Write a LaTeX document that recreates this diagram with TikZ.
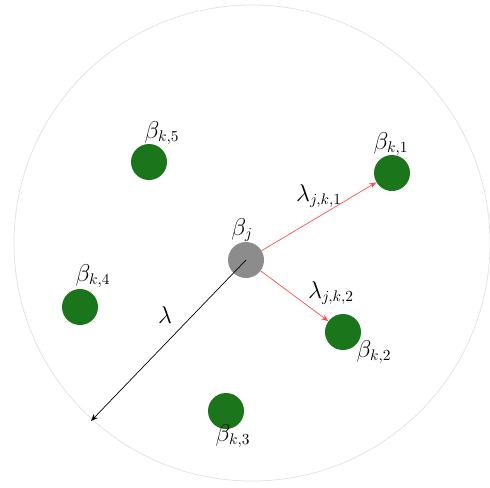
\documentclass[tikz,border=0pt]{standalone}
\usepackage{tikz}
\usetikzlibrary{arrows.meta}

\definecolor{ballgreen}{RGB}{27,117,27}
\definecolor{ballgray}{RGB}{140,140,140}
\definecolor{linkred}{RGB}{250,80,80}
\definecolor{rimgray}{RGB}{225,225,225}

\tikzset{
  ball/.style={circle, inner sep=0pt, minimum size=0.9cm},
  kball/.style={ball, fill=ballgreen},
  jball/.style={ball, fill=ballgray},
  tag/.style={font=\fontsize{16}{18}\selectfont},
  link/.style={draw=linkred, line width=0.5pt, -{Stealth[length=5pt,width=4pt]}},
  reach/.style={draw=black, line width=0.5pt, -{Stealth[length=5pt,width=4pt]}}
}

\begin{document}
\begin{tikzpicture}[x=0.025cm,y=-0.025cm]
  \useasboundingbox (0,0) rectangle (490,487);

%rim
  \coordinate (O) at (252,243);
  \draw[rimgray, line width=0.5pt] (O) circle (238);

%balls
  \node[jball] (bj) at (246,260) {};
  \node[kball] (bk1) at (392,173) {};
  \node[kball] (bk2) at (343,332) {};
  \node[kball] (bk3) at (226,411) {};
  \node[kball] (bk4) at (80,307) {};
  \node[kball] (bk5) at (149,162) {};

%labels
  \node[tag] (tj) at (242,230) {$\beta_j$};
  \node[tag] (tk1) at (391,144) {$\beta_{k,1}$};
  \node[tag] (tk2) at (374,352) {$\beta_{k,2}$};
  \node[tag] (tk3) at (233,436) {$\beta_{k,3}$};
  \node[tag] (tk4) at (93,276) {$\beta_{k,4}$};
  \node[tag] (tk5) at (162,133) {$\beta_{k,5}$};

%links
  \coordinate (R) at (91,421);
  \draw[link] (bj) -- (bk1);
  \draw[link] (bj) -- (bk2);
  \draw[reach] (bj.center) -- (R);
  \node[tag] (tl1) at (319,196) {$\lambda_{j,k,1}$};
  \node[tag] (tl2) at (331,293) {$\lambda_{j,k,2}$};
  \node[tag] (tl) at (165,315) {$\lambda$};

\end{tikzpicture}
\end{document}
